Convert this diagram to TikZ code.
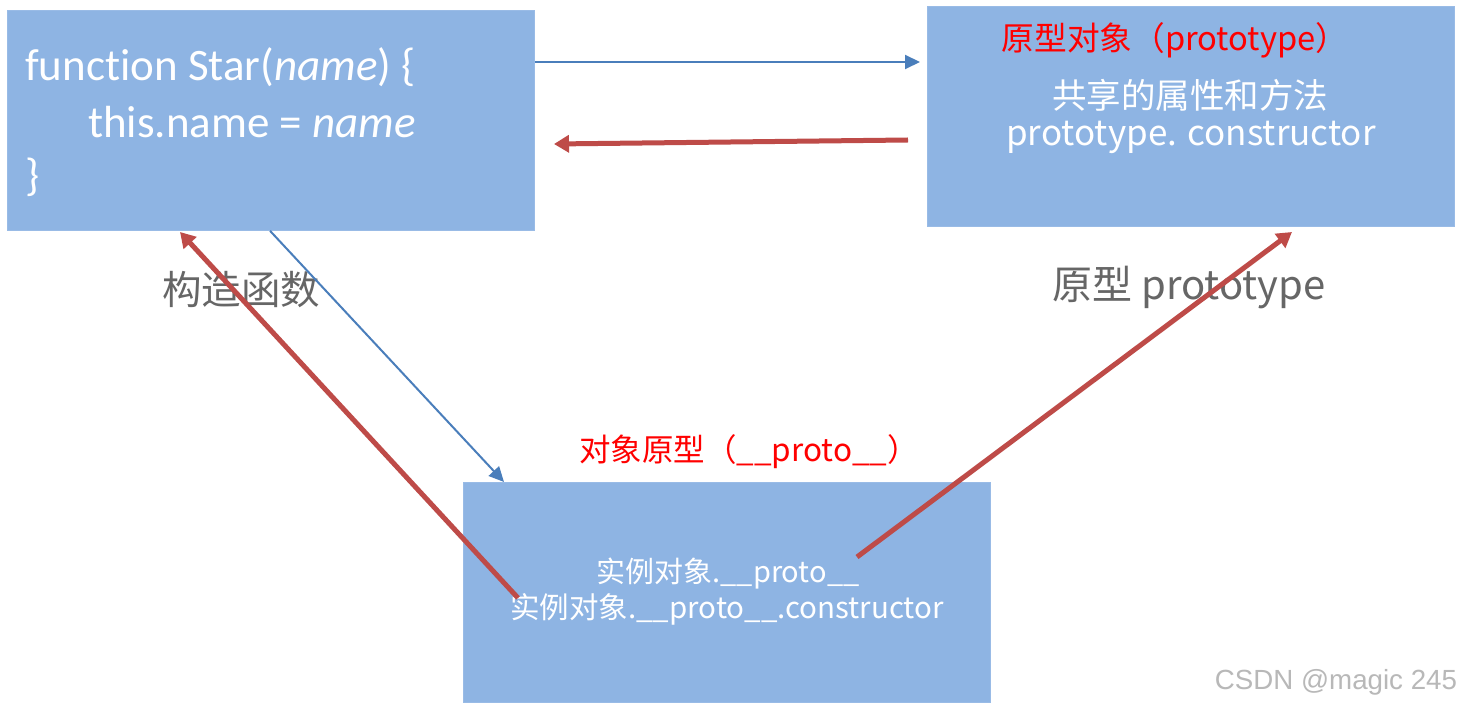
\documentclass[tikz,border=0pt]{standalone}
\usepackage{fontspec}
\usetikzlibrary{arrows.meta}
\newfontfamily\cjk{Noto Sans CJK SC}
\newfontfamily\calib[Ligatures={NoCommon}]{Carlito}
\newfontfamily\wmfont{Liberation Sans}
\definecolor{boxblue}{HTML}{8EB4E3}
\definecolor{lineblue}{HTML}{4A7EBB}
\definecolor{linered}{HTML}{BE4B48}
\definecolor{labelgray}{HTML}{666666}
\definecolor{titlered}{HTML}{FF0000}
\tikzset{
  panel/.style={fill=boxblue, draw=boxblue!90!white, line width=0.8pt, inner sep=0pt,
    minimum width=527pt, minimum height=220pt, anchor=north west},
  bluearrow/.style={draw=lineblue, line width=2pt, -{Triangle[length=15pt,width=14pt]}},
  redarrow/.style={draw=linered, line width=5pt, -{Triangle[length=15pt,width=17pt]}},
  codetext/.style={text=white, anchor=west, inner sep=0pt, font=\calib\fontsize{45}{52}\selectfont},
  boxtext/.style={text=white, inner sep=0pt, font=\cjk\fontsize{30}{36}\selectfont},
  redtitle/.style={text=titlered, inner sep=0pt, font=\cjk\fontsize{31.5}{38}\selectfont},
  graylabel/.style={text=labelgray, inner sep=0pt, font=\cjk\fontsize{40}{48}\selectfont},
}
\begin{document}
\begin{tikzpicture}[x=1pt,y=-1pt]
\useasboundingbox[fill=white] (0,0) rectangle (1460,708);
% boxes
\node[panel] (A) at (7,10) {};
\node[panel] (B) at (927,6) {};
\node[panel] (C) at (463,482) {};
% box A code
\node[codetext] (a1) at (25,67) {function Star(\textit{name}) \{};
\node[codetext] (a2) at (88,122) {this.name = \textit{name}};
\node[codetext] (a3) at (25,177) {\}};
% box B texts
\node[redtitle, font=\cjk\fontsize{32.7}{38}\selectfont] (btitle) at (1175,40) {原型对象（prototype）};
\node[boxtext, font=\cjk\fontsize{34.5}{40}\selectfont] (b1) at (1190,95) {共享的属性和方法};
\node[boxtext, font=\cjk\fontsize{35}{40}\selectfont] (b2) at (1191,137) {prototype. constructor};
% box C texts
\node[redtitle] (ctitle) at (749,452) {对象原型（\_\_proto\_\_）};
\node[boxtext, font=\cjk\fontsize{29}{34}\selectfont] (c1) at (728,574) {实例对象.\_\_proto\_\_};
\node[boxtext, font=\cjk\fontsize{29.5}{34}\selectfont] (c2) at (727,609) {实例对象.\_\_proto\_\_.constructor};
% labels
\node[graylabel, font=\cjk\fontsize{39.5}{46}\selectfont] (lA) at (241,290) {构造函数};
\node[graylabel] (lB) at (1189,288) {原型 prototype};
\node[text=black!28, inner sep=0pt, font=\wmfont\fontsize{27.7}{32}\selectfont] (wm) at (1336,682) {CSDN @magic 245};
% connector end points
\coordinate (r1s) at (908,140);
\coordinate (r1e) at (554,144);
\coordinate (r2s) at (518,598);
\coordinate (r2e) at (180,232);
\coordinate (r3s) at (857,557);
\coordinate (r3e) at (1292,232);
% connectors
\draw[bluearrow] (A.east |- 0,62) -- ([xshift=-7pt]B.west |- 0,62);
\draw[redarrow] (r1s) -- (r1e);
\draw[bluearrow] (A.south -| 270,0) -- (C.north -| 504,0);
\draw[redarrow] (r2s) -- (r2e);
\draw[redarrow] (r3s) -- (r3e);
\end{tikzpicture}
\end{document}
